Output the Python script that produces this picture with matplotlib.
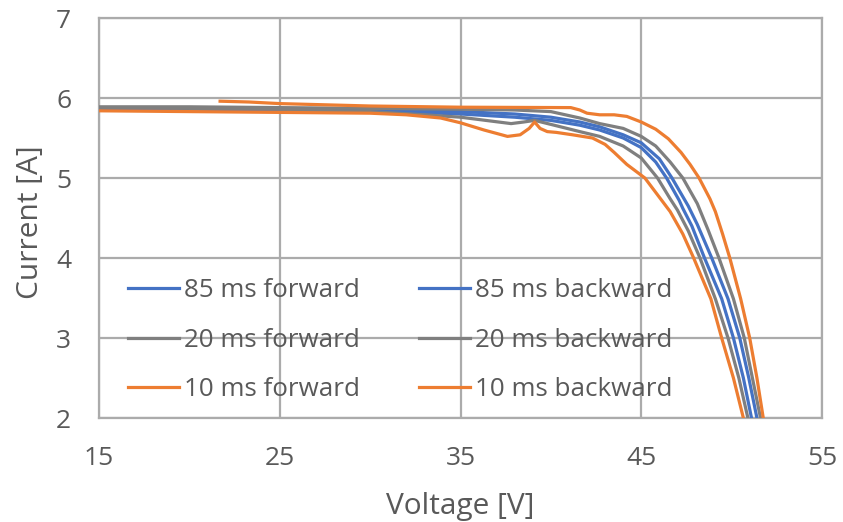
import matplotlib
matplotlib.use("Agg")
import matplotlib.pyplot as plt

plt.rcParams['font.family'] = ['Open Sans', 'DejaVu Sans']

# ---- data (Voltage [V], Current [A]) ----
v_85_fwd = [15, 20, 25, 30, 35, 38, 40, 41.6, 42.7, 44.0, 45.0, 45.8, 46.4, 47.1, 47.3, 47.8, 48.5, 49.45, 50.1, 50.65, 51.1, 51.15]
i_85_fwd = [5.86, 5.86, 5.85, 5.84, 5.80, 5.76, 5.72, 5.66, 5.60, 5.50, 5.38, 5.20, 5.00, 4.72, 4.62, 4.40, 4.00, 3.49, 3.00, 2.50, 2.00, 1.9]

v_85_bwd = [15, 20, 25, 30, 35, 38, 40, 41.6, 42.7, 44.0, 45.0, 46.0, 46.7, 47.6, 48.1, 48.9, 49.8, 50.45, 50.95, 51.4, 51.45]
i_85_bwd = [5.87, 5.87, 5.86, 5.85, 5.83, 5.80, 5.76, 5.70, 5.64, 5.54, 5.44, 5.24, 5.00, 4.65, 4.42, 4.00, 3.49, 3.00, 2.50, 2.00, 1.9]

v_20_fwd = [15, 20, 25, 30, 33, 35, 37.8, 38.5, 39.1, 40.0, 41.6, 42.7, 44.0, 45.0, 45.9, 46.6, 47.0, 47.6, 48.25, 49.1, 49.8, 50.4, 50.9, 50.95]
i_20_fwd = [5.88, 5.87, 5.86, 5.83, 5.79, 5.76, 5.68, 5.70, 5.72, 5.67, 5.58, 5.52, 5.40, 5.25, 5.00, 4.74, 4.60, 4.34, 4.00, 3.49, 3.00, 2.50, 2.00, 1.9]

v_20_bwd = [15, 20, 25, 30, 35, 38, 40, 41.6, 42.7, 44.0, 45.0, 45.8, 46.6, 47.3, 48.1, 48.7, 49.3, 50.1, 50.7, 51.15, 51.6, 51.65]
i_20_bwd = [5.89, 5.89, 5.88, 5.87, 5.86, 5.85, 5.83, 5.75, 5.68, 5.62, 5.52, 5.40, 5.20, 5.00, 4.68, 4.35, 4.00, 3.49, 3.00, 2.50, 2.00, 1.9]

v_10_fwd = [15, 20, 25, 30, 32, 33.9, 35, 36.3, 37.6, 38.3, 38.8, 39.1, 39.4, 39.8, 40.3, 41.2, 42.3, 43.0, 43.5, 44.2, 45.2, 46.0, 46.6, 47.3, 47.9, 48.85, 49.45, 50.1, 50.65, 50.7]
i_10_fwd = [5.84, 5.83, 5.82, 5.81, 5.79, 5.75, 5.69, 5.60, 5.52, 5.54, 5.62, 5.70, 5.62, 5.58, 5.57, 5.54, 5.50, 5.42, 5.32, 5.17, 5.00, 4.76, 4.58, 4.30, 4.00, 3.49, 3.00, 2.50, 2.00, 1.9]

v_10_bwd = [21.7, 23.3, 25, 30, 35, 41.1, 41.6, 42.0, 42.7, 43.5, 44.2, 45.0, 45.8, 46.5, 47.2, 47.7, 48.2, 48.8, 49.1, 49.5, 49.9, 50.5, 51.0, 51.4, 51.75, 51.8]
i_10_bwd = [5.96, 5.95, 5.93, 5.90, 5.885, 5.88, 5.85, 5.81, 5.79, 5.79, 5.77, 5.70, 5.61, 5.49, 5.32, 5.17, 5.00, 4.74, 4.58, 4.30, 4.00, 3.49, 3.00, 2.50, 2.00, 1.9]

x_ticks = [15, 25, 35, 45, 55]
y_ticks = [2, 3, 4, 5, 6, 7]

BLUE = '#4472C4'
GREY = '#7F7F7F'
ORANGE = '#ED7D31'
TXT = '#595959'
GRID = '#ABABAB'

fig = plt.figure(figsize=(8.43, 5.22), dpi=100)
ax = fig.add_axes([99/843, 104/522, 723/843, 400/522])

lw = 2.3
series = [
    (v_85_fwd, i_85_fwd, BLUE, '85 ms forward'),
    (v_85_bwd, i_85_bwd, BLUE, '85 ms backward'),
    (v_20_fwd, i_20_fwd, GREY, '20 ms forward'),
    (v_20_bwd, i_20_bwd, GREY, '20 ms backward'),
    (v_10_fwd, i_10_fwd, ORANGE, '10 ms forward'),
    (v_10_bwd, i_10_bwd, ORANGE, '10 ms backward'),
]
handles = {}
for v, i, c, lab in series:
    h, = ax.plot(v, i, color=c, lw=lw, label=lab, solid_joinstyle='round', zorder=3)
    handles[lab] = h

ax.set_xlim(15, 55)
ax.set_ylim(2, 7)
ax.set_xticks(x_ticks)
ax.set_yticks(y_ticks)
ax.grid(True, color=GRID, lw=1.6, zorder=0)
for s in ax.spines.values():
    s.set_color(GRID)
    s.set_linewidth(1.6)
ax.tick_params(length=0, labelsize=19, labelcolor=TXT)
ax.tick_params(axis='x', pad=20)
ax.tick_params(axis='y', pad=20)

ax.set_xlabel('Voltage [V]', fontsize=21.5, color=TXT)
ax.set_ylabel('Current [A]', fontsize=21.5, color=TXT)
ax.xaxis.set_label_coords(0.5, -0.184)
ax.yaxis.set_label_coords(-0.075, 0.49)

order = ['85 ms forward', '20 ms forward', '10 ms forward',
         '85 ms backward', '20 ms backward', '10 ms backward']
leg = ax.legend([handles[k] for k in order], order, ncol=2, frameon=False,
                loc='upper left', bbox_to_anchor=(0.040, 0.350),
                borderpad=0, borderaxespad=0, fontsize=18.7,
                handlelength=1.95, handletextpad=0.2, columnspacing=2.3,
                labelspacing=0.95)
for t in leg.get_texts():
    t.set_color(TXT)

fig.savefig('out.png', dpi=100)
